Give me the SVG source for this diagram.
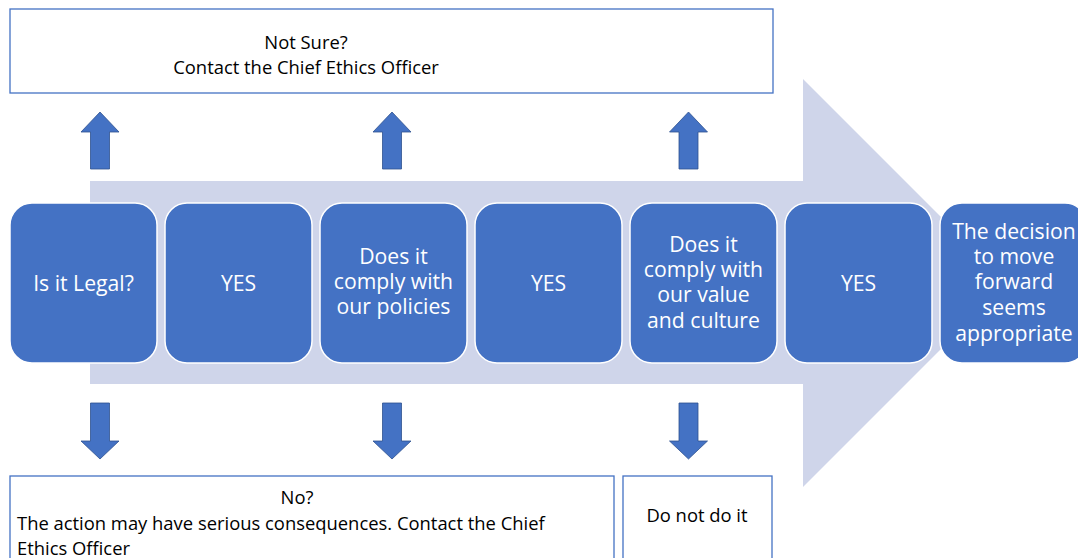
<svg xmlns="http://www.w3.org/2000/svg" width="1078" height="558" viewBox="0 0 1078 558">
<style>
.step{fill:#4472C4;stroke:#FFFFFF;stroke-width:1.5}
.st{font-family:"Open Sans","Liberation Sans",sans-serif;font-size:21.2px;fill:#FFFFFF;text-anchor:middle}
.box{fill:#FFFFFF;stroke:#4472C4;stroke-width:1.3}
.bt{font-family:"Open Sans","Liberation Sans",sans-serif;font-size:18.4px;fill:#000000}
.arr{fill:#4472C4;stroke:#2F528F;stroke-width:0.8}
</style>
<defs>
<path id="up" d="M0,0 L19,20 L9.5,20 L9.5,57 L-9.5,57 L-9.5,20 L-19,20 Z"/>
<path id="down" d="M-9.5,0 L9.5,0 L9.5,38 L19,38 L0,56 L-19,38 L-9.5,38 Z"/>
</defs>
<rect width="1078" height="558" fill="#FFFFFF"/>
<path id="flow" d="M90,181 L803,181 L803,79 L1007,283 L803,487 L803,384 L90,384 Z" fill="#CFD5EA"/>
<g id="connectors">
<use href="#up" class="arr" x="100" y="112"/>
<use href="#up" class="arr" x="392" y="112"/>
<use href="#up" class="arr" x="688.5" y="112"/>
<use href="#down" class="arr" x="100" y="403"/>
<use href="#down" class="arr" x="392" y="403"/>
<use href="#down" class="arr" x="688.5" y="403"/>
</g>
<g id="top-box">
<rect class="box" x="10" y="9" width="763" height="84"/>
<text class="bt" x="306" y="48.5" text-anchor="middle">Not Sure?</text>
<text class="bt" x="306" y="73.5" text-anchor="middle">Contact the Chief Ethics Officer</text>
</g>
<g id="n1"><rect class="step" x="10" y="203" width="147" height="160" rx="22"/>
<text class="st" x="83.5" y="291">Is it Legal?</text></g>
<g id="n2"><rect class="step" x="165" y="203" width="147" height="160" rx="22"/>
<text class="st" x="238.5" y="291">YES</text></g>
<g id="n3"><rect class="step" x="320" y="203" width="147" height="160" rx="22"/>
<text class="st" x="393.5" y="264">Does it</text>
<text class="st" x="393.5" y="289">comply with</text>
<text class="st" x="393.5" y="314">our policies</text></g>
<g id="n4"><rect class="step" x="475" y="203" width="147" height="160" rx="22"/>
<text class="st" x="548.5" y="291">YES</text></g>
<g id="n5"><rect class="step" x="630" y="203" width="147" height="160" rx="22"/>
<text class="st" x="703.5" y="252">Does it</text>
<text class="st" x="703.5" y="277">comply with</text>
<text class="st" x="703.5" y="302">our value</text>
<text class="st" x="703.5" y="328">and culture</text></g>
<g id="n6"><rect class="step" x="785" y="203" width="147" height="160" rx="22"/>
<text class="st" x="858.5" y="291">YES</text></g>
<g id="n7"><rect class="step" x="940" y="203" width="147" height="160" rx="22"/>
<text class="st" x="1014" y="239">The decision</text>
<text class="st" x="1014" y="264">to move</text>
<text class="st" x="1014" y="289">forward</text>
<text class="st" x="1014" y="315">seems</text>
<text class="st" x="1014" y="341">appropriate</text></g>
<g id="no-box">
<rect class="box" x="10" y="476" width="604" height="100"/>
<text class="bt" x="297" y="503.5" text-anchor="middle">No?</text>
<text class="bt" x="17" y="529.5">The action may have serious consequences. Contact the Chief</text>
<text class="bt" x="17" y="554.5">Ethics Officer</text>
</g>
<g id="dont-box">
<rect class="box" x="623" y="476" width="149" height="100"/>
<text class="bt" x="697" y="521.5" text-anchor="middle">Do not do it</text>
</g>
</svg>
